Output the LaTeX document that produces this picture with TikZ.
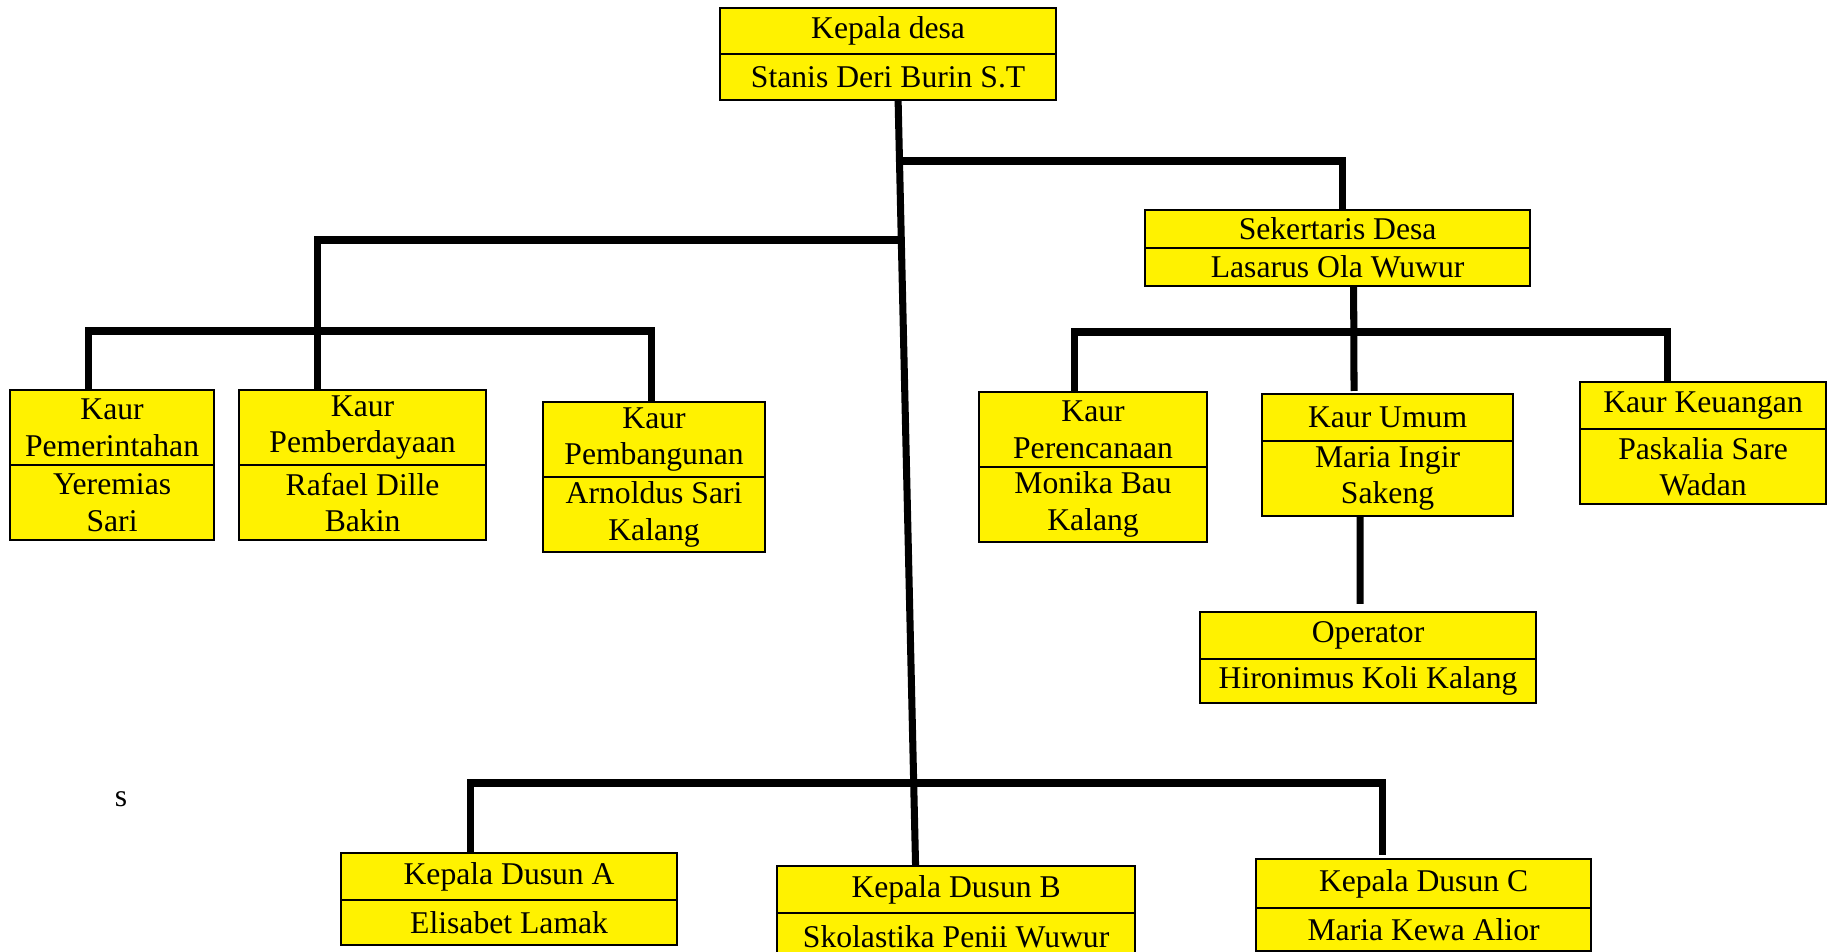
\documentclass[tikz,border=0pt]{standalone}
\usepackage{fontspec}
\setmainfont{Liberation Serif}
\usetikzlibrary{positioning}

\tikzset{
  sel/.style={draw, line width=0.6pt, fill=yellow, inner sep=0pt, outer sep=0pt, align=center, font=\fontsize{9pt}{10.4pt}\selectfont},
  garis/.style={line width=2pt},
}

\begin{document}
\begin{tikzpicture}[x=0.01cm, y=-0.01cm]
\useasboundingbox (0,0) rectangle (1832,952);

% kepala desa dan sekretaris
\node[sel, minimum width=3.36cm, minimum height=0.46cm, anchor=north west] (kdJ) at (720,8) {Kepala desa};
\node[sel, minimum width=3.36cm, minimum height=0.46cm, below=0pt of kdJ] (kdN) {Stanis Deri Burin S.T};
\node[sel, minimum width=3.85cm, minimum height=0.38cm, anchor=north west] (skJ) at (1145,210) {Sekertaris Desa};
\node[sel, minimum width=3.85cm, minimum height=0.38cm, below=0pt of skJ] (skN) {Lasarus Ola Wuwur};

% kaur kiri
\node[sel, minimum width=2.04cm, minimum height=0.75cm, anchor=north west] (pmrJ) at (10,390) {Kaur\\Pemerintahan};
\node[sel, minimum width=2.04cm, minimum height=0.75cm, below=0pt of pmrJ] (pmrN) {Yeremias\\Sari};
\node[sel, minimum width=2.47cm, minimum height=0.75cm, anchor=north west] (pbdJ) at (239,390) {Kaur\\Pemberdayaan};
\node[sel, minimum width=2.47cm, minimum height=0.75cm, below=0pt of pbdJ] (pbdN) {Rafael Dille\\Bakin};
\node[sel, minimum width=2.22cm, minimum height=0.75cm, anchor=north west] (pbgJ) at (543,402) {Kaur\\Pembangunan};
\node[sel, minimum width=2.22cm, minimum height=0.75cm, below=0pt of pbgJ] (pbgN) {Arnoldus Sari\\Kalang};

% kaur kanan
\node[sel, minimum width=2.28cm, minimum height=0.75cm, anchor=north west] (rcJ) at (979,392) {Kaur\\Perencanaan};
\node[sel, minimum width=2.28cm, minimum height=0.75cm, below=0pt of rcJ] (rcN) {Monika Bau\\Kalang};
\node[sel, minimum width=2.51cm, minimum height=0.47cm, anchor=north west] (umJ) at (1262,394) {Kaur Umum};
\node[sel, minimum width=2.51cm, minimum height=0.75cm, below=0pt of umJ] (umN) {Maria Ingir\\Sakeng};
\node[sel, minimum width=2.46cm, minimum height=0.47cm, anchor=north west] (kuJ) at (1580,382) {Kaur Keuangan};
\node[sel, minimum width=2.46cm, minimum height=0.75cm, below=0pt of kuJ] (kuN) {Paskalia Sare\\Wadan};
\node[sel, minimum width=3.36cm, minimum height=0.47cm, anchor=north west] (opJ) at (1200,612) {Operator};
\node[sel, minimum width=3.36cm, minimum height=0.44cm, below=0pt of opJ] (opN) {Hironimus Koli Kalang};

% kepala dusun
\node[sel, minimum width=3.36cm, minimum height=0.47cm, anchor=north west] (dsAJ) at (341,853) {Kepala Dusun A};
\node[sel, minimum width=3.36cm, minimum height=0.45cm, below=0pt of dsAJ] (dsAN) {Elisabet Lamak};
\node[sel, minimum width=3.58cm, minimum height=0.47cm, anchor=north west] (dsBJ) at (777,866) {Kepala Dusun B};
\node[sel, minimum width=3.58cm, minimum height=0.47cm, below=0pt of dsBJ] (dsBN) {Skolastika Penii Wuwur};
\node[sel, minimum width=3.35cm, minimum height=0.49cm, anchor=north west] (dsCJ) at (1256,859) {Kepala Dusun C};
\node[sel, minimum width=3.35cm, minimum height=0.43cm, below=0pt of dsCJ] (dsCN) {Maria Kewa Alior};

\node[font=\fontsize{9pt}{10pt}\selectfont] (cat) at (121,799) {s};

% garis
\coordinate (cabKanan) at (899,161);
\coordinate (cabKiri) at (901,240);
\draw[garis] ([xshift=0.1cm]kdN.south) -- ([xshift=-0.405cm]dsBJ.north);
\draw[garis] (cabKanan) -| ([xshift=0.05cm]skJ.north);
\draw[garis] (cabKiri) -| ([xshift=-0.45cm]pbdJ.north);
\draw[garis] ([xshift=-0.24cm]pmrJ.north) -- ++(0,-59) -| ([xshift=-0.03cm]pbgJ.north);
\draw[garis] ([xshift=0.16cm]skN.south) -- ([xshift=-0.335cm,yshift=0.03cm]umJ.north);
\draw[garis] ([xshift=-0.19cm]rcJ.north) -- ++(0,-60) -| ([xshift=-0.36cm]kuJ.north);
\draw[garis] ([xshift=-0.275cm]umN.south) -- ([xshift=-0.08cm,yshift=0.08cm]opJ.north);
\draw[garis] ([xshift=-0.385cm]dsAJ.north) -- ++(0,-70) -| ([xshift=-0.415cm,yshift=0.04cm]dsCJ.north);
\end{tikzpicture}
\end{document}
